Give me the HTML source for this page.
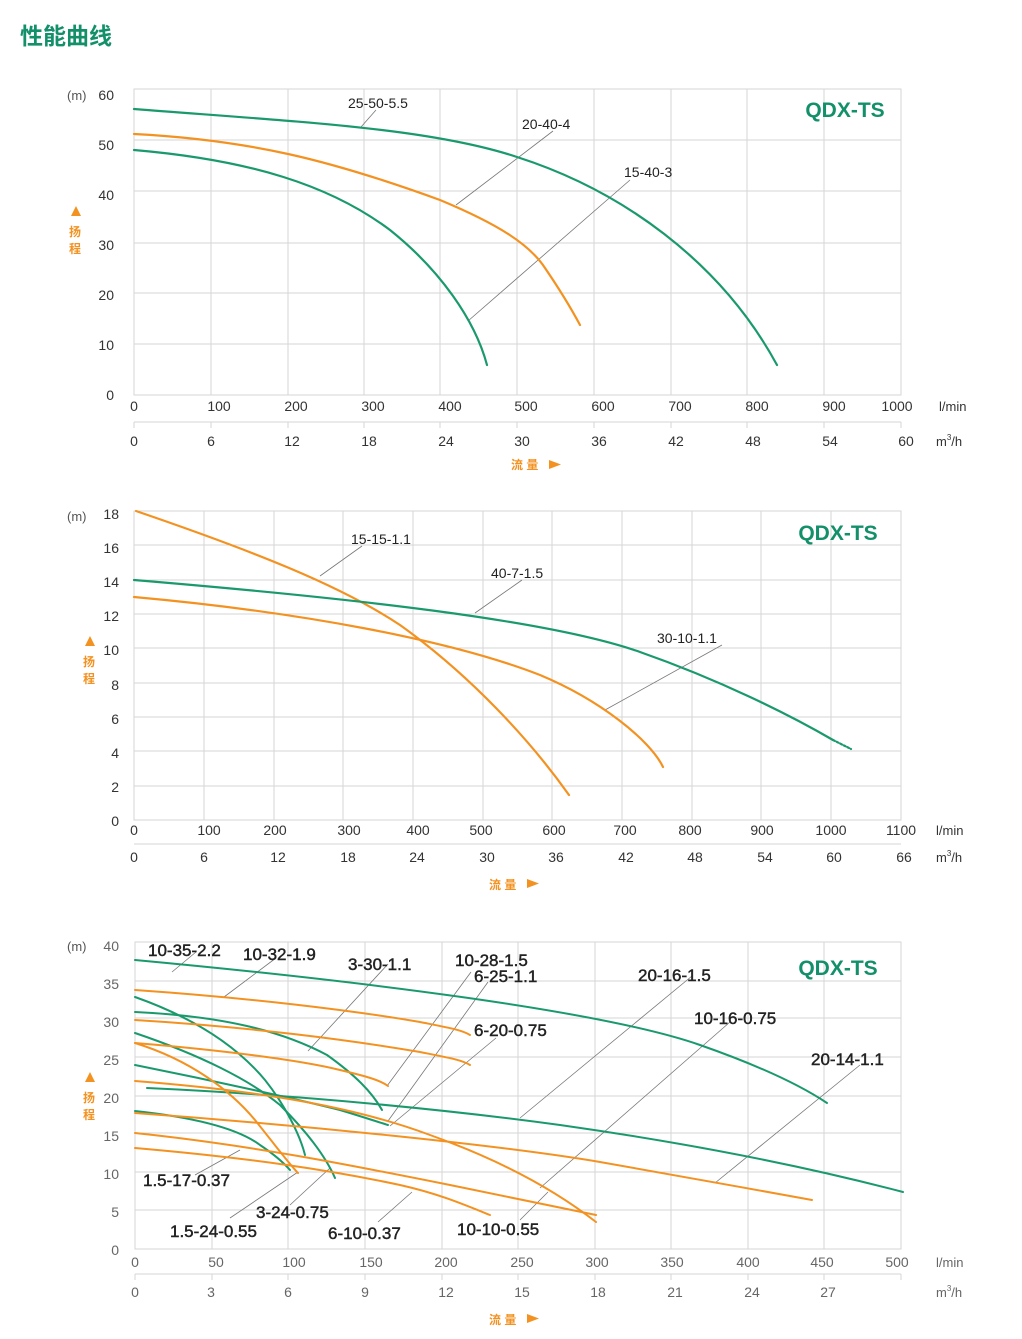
<!DOCTYPE html>
<html><head><meta charset="utf-8"><style>
html,body{margin:0;padding:0;background:#fff;}
svg{display:block;}
text{font-family:"Liberation Sans","Noto Sans CJK SC",sans-serif;}
</style></head><body>
<svg width="1022" height="1339" viewBox="0 0 1022 1339" xmlns="http://www.w3.org/2000/svg">
<text x="20" y="44" font-size="23" font-weight="bold" fill="#13906a" font-family="'Noto Sans CJK SC',sans-serif">性能曲线</text>

<!-- ============ CHART 1 ============ -->
<g stroke="#d6d6d6" stroke-width="1" fill="none">
<rect x="134" y="89" width="767" height="306"/>
<path d="M211 89V395M288 89V395M364 89V395M440 89V395M517 89V395M594 89V395M671 89V395M747 89V395M824 89V395"/>
<path d="M134 140H901M134 191H901M134 243H901M134 293H901M134 344H901"/>
<path d="M134 422H901M134 422v6M211 422v6M288 422v6M364 422v6M440 422v6M517 422v6M594 422v6M671 422v6M747 422v6M824 422v6M901 422v6"/>
</g>
<g font-size="14" fill="#333" text-anchor="end">
<text x="114" y="100">60</text><text x="114" y="150">50</text><text x="114" y="200">40</text><text x="114" y="250">30</text><text x="114" y="300">20</text><text x="114" y="350">10</text><text x="114" y="400">0</text>
</g>
<text x="67" y="100" font-size="13" fill="#555">(m)</text>
<polygon points="76,206 71,216 81,216" fill="#f39221"/>
<text x="69" y="236" font-size="12" font-weight="bold" fill="#f39221" font-family="'Noto Sans CJK SC',sans-serif">扬</text>
<text x="69" y="253" font-size="12" font-weight="bold" fill="#f39221" font-family="'Noto Sans CJK SC',sans-serif">程</text>
<g font-size="14" fill="#333" text-anchor="middle">
<text x="134" y="411">0</text><text x="219" y="411">100</text><text x="296" y="411">200</text><text x="373" y="411">300</text><text x="450" y="411">400</text><text x="526" y="411">500</text><text x="603" y="411">600</text><text x="680" y="411">700</text><text x="757" y="411">800</text><text x="834" y="411">900</text><text x="897" y="411">1000</text>
<text x="134" y="446">0</text><text x="211" y="446">6</text><text x="292" y="446">12</text><text x="369" y="446">18</text><text x="446" y="446">24</text><text x="522" y="446">30</text><text x="599" y="446">36</text><text x="676" y="446">42</text><text x="753" y="446">48</text><text x="830" y="446">54</text><text x="906" y="446">60</text>
</g>
<text x="939" y="411" font-size="13" fill="#333">l/min</text>
<text x="936" y="446" font-size="13" fill="#333">m<tspan font-size="8" dy="-6">3</tspan><tspan dy="6">/h</tspan></text>
<text x="511" y="469" font-size="12" font-weight="bold" fill="#f39221" font-family="'Noto Sans CJK SC',sans-serif">流 量</text>
<polygon points="549,460 549,469 561,464.5" fill="#f39221"/>
<text x="845" y="117" font-size="21" font-weight="bold" fill="#13906a" text-anchor="middle">QDX-TS</text>
<g stroke="#777" stroke-width="0.8">
<path d="M376 110L361 127M553 131L456 205M630 180L468 321"/>
</g>
<g font-size="14" fill="#222">
<text x="348" y="108">25-50-5.5</text><text x="522" y="129">20-40-4</text><text x="624" y="177">15-40-3</text>
</g>
<g fill="none" stroke-width="2.2" stroke-linecap="round">
<path stroke="#1a9a6c" d="M134 109C300 122 430 128 517 157C620 190 720 260 777 365"/>
<path stroke="#f39221" d="M134 134C250 140 330 160 440 200C500 225 530 245 545 268C560 290 572 310 580 325"/>
<path stroke="#1a9a6c" d="M134 150C250 160 330 185 390 230C440 270 475 320 487 365"/>
</g>

<!-- ============ CHART 2 ============ -->
<g stroke="#d6d6d6" stroke-width="1" fill="none">
<rect x="134" y="511" width="767" height="309"/>
<path d="M204 511V820M274 511V820M343 511V820M413 511V820M483 511V820M552 511V820M622 511V820M692 511V820M761 511V820M831 511V820"/>
<path d="M134 545H901M134 580H901M134 614H901M134 648H901M134 683H901M134 717H901M134 751H901M134 786H901"/>
<path d="M134 844H901"/>
</g>
<g font-size="14" fill="#333" text-anchor="end">
<text x="119" y="519">18</text><text x="119" y="553">16</text><text x="119" y="587">14</text><text x="119" y="621">12</text><text x="119" y="655">10</text><text x="119" y="690">8</text><text x="119" y="724">6</text><text x="119" y="758">4</text><text x="119" y="792">2</text><text x="119" y="826">0</text>
</g>
<text x="67" y="521" font-size="13" fill="#555">(m)</text>
<polygon points="90,636 85,646 95,646" fill="#f39221"/>
<text x="83" y="666" font-size="12" font-weight="bold" fill="#f39221" font-family="'Noto Sans CJK SC',sans-serif">扬</text>
<text x="83" y="683" font-size="12" font-weight="bold" fill="#f39221" font-family="'Noto Sans CJK SC',sans-serif">程</text>
<g font-size="14" fill="#333" text-anchor="middle">
<text x="134" y="835">0</text><text x="209" y="835">100</text><text x="275" y="835">200</text><text x="349" y="835">300</text><text x="418" y="835">400</text><text x="481" y="835">500</text><text x="554" y="835">600</text><text x="625" y="835">700</text><text x="690" y="835">800</text><text x="762" y="835">900</text><text x="831" y="835">1000</text><text x="901" y="835">1100</text>
<text x="134" y="862">0</text><text x="204" y="862">6</text><text x="278" y="862">12</text><text x="348" y="862">18</text><text x="417" y="862">24</text><text x="487" y="862">30</text><text x="556" y="862">36</text><text x="626" y="862">42</text><text x="695" y="862">48</text><text x="765" y="862">54</text><text x="834" y="862">60</text><text x="904" y="862">66</text>
</g>
<text x="936" y="835" font-size="13" fill="#333">l/min</text>
<text x="936" y="862" font-size="13" fill="#333">m<tspan font-size="8" dy="-6">3</tspan><tspan dy="6">/h</tspan></text>
<text x="489" y="889" font-size="12" font-weight="bold" fill="#f39221" font-family="'Noto Sans CJK SC',sans-serif">流 量</text>
<polygon points="527,879 527,888 539,883.5" fill="#f39221"/>
<text x="838" y="540" font-size="21" font-weight="bold" fill="#13906a" text-anchor="middle">QDX-TS</text>
<g stroke="#777" stroke-width="0.8"><path d="M362 546L320 576M522 580L475 613M722 645L605 710"/></g>
<g font-size="14" fill="#222"><text x="351" y="544">15-15-1.1</text><text x="491" y="578">40-7-1.5</text><text x="657" y="643">30-10-1.1</text></g>
<g fill="none" stroke-width="2.2" stroke-linecap="round">
<path stroke="#f39221" d="M136 511C250 550 340 585 400 625C470 675 530 740 569 795"/>
<path stroke="#1a9a6c" d="M134 580C350 598 550 620 640 652C720 680 790 715 833 740"/>
<path stroke="#1a9a6c" stroke-dasharray="2 2" d="M833 740L851 749"/>
<path stroke="#f39221" d="M134 597C300 612 450 640 540 675C600 700 650 740 663 767"/>
</g>

<!-- ============ CHART 3 ============ -->
<g stroke="#d6d6d6" stroke-width="1" fill="none">
<rect x="135" y="942" width="766" height="307"/>
<path d="M212 942V1249M288 942V1249M365 942V1249M442 942V1249M518 942V1249M595 942V1249M671 942V1249M748 942V1249M824 942V1249"/>
<path d="M135 981H901M135 1018H901M135 1057H901M135 1096H901M135 1133H901M135 1172H901M135 1210H901"/>
<path d="M135 1274H901M135 1274v6M212 1274v6M288 1274v6M365 1274v6M442 1274v6M518 1274v6M595 1274v6M671 1274v6M748 1274v6M824 1274v6M901 1274v6"/>
</g>
<g font-size="14" fill="#666" text-anchor="end">
<text x="119" y="951">40</text><text x="119" y="989">35</text><text x="119" y="1027">30</text><text x="119" y="1065">25</text><text x="119" y="1103">20</text><text x="119" y="1141">15</text><text x="119" y="1179">10</text><text x="119" y="1217">5</text><text x="119" y="1255">0</text>
</g>
<text x="67" y="951" font-size="13" fill="#555">(m)</text>
<polygon points="90,1072 85,1082 95,1082" fill="#f39221"/>
<text x="83" y="1102" font-size="12" font-weight="bold" fill="#f39221" font-family="'Noto Sans CJK SC',sans-serif">扬</text>
<text x="83" y="1119" font-size="12" font-weight="bold" fill="#f39221" font-family="'Noto Sans CJK SC',sans-serif">程</text>
<g font-size="14" fill="#666" text-anchor="middle">
<text x="135" y="1267">0</text><text x="216" y="1267">50</text><text x="294" y="1267">100</text><text x="371" y="1267">150</text><text x="446" y="1267">200</text><text x="522" y="1267">250</text><text x="597" y="1267">300</text><text x="672" y="1267">350</text><text x="748" y="1267">400</text><text x="822" y="1267">450</text><text x="897" y="1267">500</text>
<text x="135" y="1297">0</text><text x="211" y="1297">3</text><text x="288" y="1297">6</text><text x="365" y="1297">9</text><text x="446" y="1297">12</text><text x="522" y="1297">15</text><text x="598" y="1297">18</text><text x="675" y="1297">21</text><text x="752" y="1297">24</text><text x="828" y="1297">27</text>
</g>
<text x="936" y="1267" font-size="13" fill="#666">l/min</text>
<text x="936" y="1297" font-size="13" fill="#666">m<tspan font-size="8" dy="-6">3</tspan><tspan dy="6">/h</tspan></text>
<text x="489" y="1324" font-size="12" font-weight="bold" fill="#f39221" font-family="'Noto Sans CJK SC',sans-serif">流 量</text>
<polygon points="527,1314 527,1323 539,1318.5" fill="#f39221"/>
<text x="838" y="975" font-size="21" font-weight="bold" fill="#13906a" text-anchor="middle">QDX-TS</text>

<g stroke="#777" stroke-width="0.8" fill="none">
<path d="M196 952L172 972M276 958L224 997M388 964L308 1051M471 972L387 1086M488 982L388 1121M496 1038L390 1126M692 976L520 1118M730 1022L540 1188M860 1065L715 1183M240 1150L195 1175M298 1172L230 1218M330 1168L290 1205M412 1192L378 1222M548 1192L520 1220"/>
</g>
<g font-size="17" fill="#222" stroke="#222" stroke-width="0.45">
<text x="148" y="956">10-35-2.2</text><text x="243" y="960">10-32-1.9</text><text x="348" y="970">3-30-1.1</text><text x="455" y="966">10-28-1.5</text><text x="474" y="982">6-25-1.1</text><text x="474" y="1036">6-20-0.75</text><text x="638" y="981">20-16-1.5</text><text x="694" y="1024">10-16-0.75</text><text x="811" y="1065">20-14-1.1</text>
<text x="143" y="1186">1.5-17-0.37</text><text x="256" y="1218">3-24-0.75</text><text x="170" y="1237">1.5-24-0.55</text><text x="328" y="1239">6-10-0.37</text><text x="457" y="1235">10-10-0.55</text>
</g>
<g fill="none" stroke-width="2" stroke-linecap="round">
<path stroke="#1a9a6c" d="M135 960C350 980 600 1010 700 1045C760 1066 800 1085 827 1103"/>
<path stroke="#1a9a6c" d="M135 997C200 1020 240 1050 265 1080C285 1105 300 1135 305 1155"/>
<path stroke="#1a9a6c" d="M135 1012C220 1016 280 1030 327 1055C355 1075 372 1092 382 1110"/>
<path stroke="#1a9a6c" d="M135 1033C200 1055 250 1080 280 1105C305 1130 325 1155 335 1178"/>
<path stroke="#1a9a6c" d="M135 1065C220 1082 300 1100 340 1110C360 1116 375 1121 388 1125"/>
<path stroke="#1a9a6c" d="M147 1088C300 1095 450 1110 560 1125C680 1142 800 1165 903 1192"/>
<path stroke="#1a9a6c" d="M135 1111C200 1118 240 1130 260 1145C275 1155 283 1162 290 1170"/>
<path stroke="#f39221" d="M135 990C250 998 350 1010 420 1022C450 1028 462 1030 470 1035"/>
<path stroke="#f39221" d="M135 1020C250 1027 350 1040 420 1052C450 1058 462 1060 470 1065"/>
<path stroke="#f39221" d="M135 1043C220 1050 300 1060 340 1070C365 1076 380 1080 388 1086"/>
<path stroke="#f39221" d="M135 1043C190 1060 230 1090 255 1120C275 1145 290 1165 298 1173"/>
<path stroke="#f39221" d="M135 1081C250 1090 350 1105 430 1135C500 1160 555 1190 596 1222"/>
<path stroke="#f39221" d="M135 1113C300 1125 500 1145 600 1162C680 1176 740 1187 812 1200"/>
<path stroke="#f39221" d="M135 1133C250 1145 350 1165 450 1185C520 1199 560 1208 596 1215"/>
<path stroke="#f39221" d="M135 1148C250 1158 330 1170 400 1185C440 1194 465 1205 490 1215"/>
</g>
</svg>
</body></html>
